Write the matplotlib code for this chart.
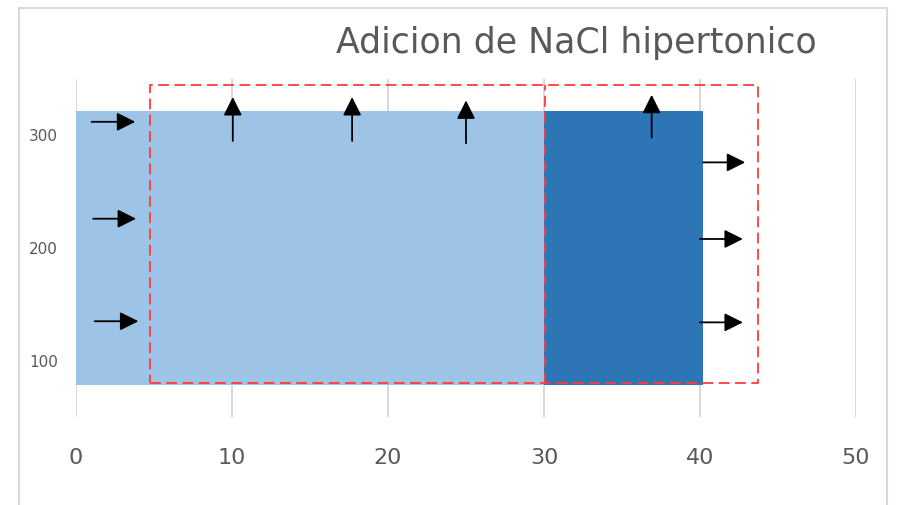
import matplotlib
matplotlib.use("Agg")
import matplotlib.pyplot as plt
from matplotlib.patches import Rectangle

# block edges (x) and heights (y)
block_left = [0, 30]
block_width = [30, 10.2]
block_bottom = [78, 78]
block_top = [322, 322]
block_colors = ["#9DC3E6", "#2E75B6"]

# red dashed frame
frame_x = [4.75, 43.7]
frame_y = [80, 345]
divider_x = 30.05

# arrows: (x_tail, y_tail, x_head, y_head)
arrows_in = [(1.0, 312, 3.8, 312), (1.1, 226, 3.85, 226), (1.2, 135, 4.0, 135)]
arrows_up = [(10.05, 295, 10.05, 334), (17.7, 295, 17.7, 334),
             (25.0, 293, 25.0, 331), (36.9, 298, 36.9, 336)]
arrows_out = [(40.2, 276, 42.9, 276), (40.0, 208, 42.75, 208), (40.0, 134, 42.75, 134)]

x_ticks = [0, 10, 20, 30, 40, 50]
y_ticks = [100, 200, 300]

fig = plt.figure(figsize=(8.98, 5.05), dpi=100)
ax = fig.add_axes([76 / 898, 1 - 417 / 505, 780 / 898, 338 / 505])

# chart frame in light grey
fig.patches.append(Rectangle((19 / 898, -0.05), 868 / 898, 1.05 - 8 / 505,
                             transform=fig.transFigure, fill=False,
                             edgecolor="#d9d9d9", linewidth=1.5))

for left, w, b, t, c in zip(block_left, block_width, block_bottom, block_top, block_colors):
    ax.bar(left, t - b, width=w, bottom=b, align="edge", color=c, zorder=2)

red = "#ff3b3b"
ax.add_patch(Rectangle((frame_x[0], frame_y[0]), frame_x[1] - frame_x[0],
                       frame_y[1] - frame_y[0], fill=False, edgecolor=red,
                       linestyle=(0, (6, 3)), linewidth=1.3, zorder=3))
ax.plot([divider_x, divider_x], frame_y, color=red, linestyle=(0, (6, 3)),
        linewidth=1.3, zorder=3)

for x0, y0, x1, y1 in arrows_in + arrows_up + arrows_out:
    ax.annotate("", xy=(x1, y1), xytext=(x0, y0),
                arrowprops=dict(arrowstyle="-|>,head_length=0.4,head_width=0.2",
                                mutation_scale=28, color="black", lw=1.3,
                                shrinkA=0, shrinkB=0), zorder=4)

ax.set_xlim(0, 50)
ax.set_ylim(50, 350)
ax.set_xticks(x_ticks)
ax.set_yticks(y_ticks)
ax.tick_params(axis="x", length=0, pad=22, labelsize=16, labelcolor="#595959")
ax.tick_params(axis="y", length=0, pad=13, labelsize=11, labelcolor="#595959")
ax.grid(axis="x", color="#d9d9d9", linewidth=1.5, zorder=0)
ax.set_axisbelow(True)
for s in ax.spines.values():
    s.set_visible(False)

fig.text(576 / 898, 1 - 43 / 505, "Adicion de NaCl hipertonico", ha="center",
         va="center", fontsize=25, color="#595959")

fig.savefig("out.png", dpi=100)
